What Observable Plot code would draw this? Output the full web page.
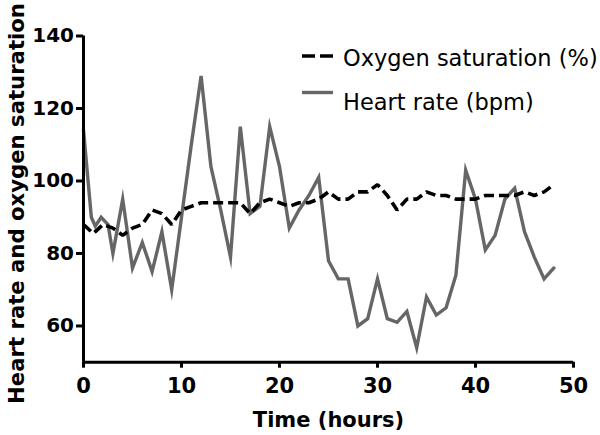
<!DOCTYPE html>
<html><head><meta charset="utf-8">
<script src="https://cdn.jsdelivr.net/npm/d3@7"></script>
<script src="https://cdn.jsdelivr.net/npm/@observablehq/plot@0.6"></script>
<style>html,body{margin:0;padding:0;background:#fff}</style>
</head><body><div id="chart"></div>
<script>
// Heart rate (bpm)
const hrTime  = [0, 0.8, 1.2, 1.8, 2.5, 3, 4, 5, 6, 7, 8, 9, 10, 11, 12, 13, 14, 15, 16, 17, 18, 19, 20, 21, 22, 23, 24, 25, 26, 27, 28, 29, 30, 31, 32, 33, 34, 35, 36, 37, 38, 39, 40, 41, 42, 43, 44, 45, 46, 47, 48];
const hrValue = [114, 90, 87.5, 90, 88, 80, 95, 76, 83, 75, 86, 70, 90, 110, 129, 104, 92, 79, 115, 91, 93, 115, 104, 87, 92, 96, 101, 78, 73, 73, 60, 62, 73, 62, 61, 64, 54, 68, 63, 65, 74, 103, 95, 81, 85, 95, 98, 86, 79, 73, 76];
// Oxygen saturation (%)
const o2Time  = [0, 1, 2, 3, 4, 5, 6, 7, 8, 9, 10, 11, 12, 13, 14, 15, 16, 17, 18, 19, 20, 21, 22, 23, 24, 25, 26, 27, 28, 29, 30, 31, 32, 33, 34, 35, 36, 37, 38, 39, 40, 41, 42, 43, 44, 45, 46, 47, 48];
const o2Value = [88, 85.5, 88, 87, 85, 87, 88, 92, 91, 88, 92, 93, 94, 94, 94, 94, 94, 91, 94, 95, 94, 93, 94, 94, 95, 97, 95, 95, 97, 97, 99, 96, 92, 95, 95, 97, 96, 96, 95, 95, 95, 96, 96, 96, 96, 97, 96, 97, 99];

const xTicks = [0, 10, 20, 30, 40, 50];
const yTicks = [60, 80, 100, 120, 140];
const seriesNames = ["Oxygen saturation (%)", "Heart rate (bpm)"];
const xTitle = "Time (hours)";
const yTitle = "Heart rate and oxygen saturation";

const hr = hrTime.map((t, i) => ({t, v: hrValue[i]}));
const o2 = o2Time.map((t, i) => ({t, v: o2Value[i]}));
const font = "'DejaVu Sans', Verdana, sans-serif";

const chart = Plot.plot({
  width: 600, height: 435,
  marginLeft: 83, marginRight: 27, marginTop: 35.5, marginBottom: 73.3,
  style: {fontFamily: font, background: "#fff", color: "#000", overflow: "visible"},
  x: {domain: [0, 50]},
  y: {domain: [50, 140]},
  marks: [
    Plot.line(hr, {x: "t", y: "v", stroke: "#666666", strokeWidth: 3.4, strokeLinejoin: "miter", strokeMiterlimit: 8}),
    Plot.line(o2, {x: "t", y: "v", stroke: "#000", strokeWidth: 3.6, strokeDasharray: "10,5", strokeLinecap: "butt", strokeLinejoin: "miter"}),
    Plot.ruleX([0], {stroke: "#000", strokeWidth: 3}),
    Plot.ruleY([50], {stroke: "#000", strokeWidth: 3}),
    Plot.axisX({ticks: xTicks, tickSize: 6, tickPadding: 10, fontSize: 21, fontWeight: "bold", strokeWidth: 3, label: null, tickFormat: d => String(d)}),
    Plot.axisY({ticks: yTicks, tickSize: 7, tickPadding: 2.5, fontSize: 20, fontWeight: "bold", strokeWidth: 3, label: null, tickFormat: d => String(d)}),
    Plot.text([xTitle], {text: d => d, frameAnchor: "bottom", lineAnchor: "bottom", dy: 65, fontSize: 21, fontWeight: "bold"}),
    Plot.text([yTitle], {text: d => d, frameAnchor: "left", textAnchor: "middle", lineAnchor: "bottom", rotate: -90, dx: -59.5, dy: 4.4, fontSize: 21.2, fontWeight: "bold"})
  ]
});

// Legend
const svg = d3.select(chart);
const legend = svg.append("g").attr("text-anchor", "start");
const legendStyles = [
  {dash: "13,5", color: "#000", width: 3.6, y: 56, ty: 65.5},
  {dash: null, color: "#666666", width: 3.4, y: 92.5, ty: 110}
];
seriesNames.forEach((name, i) => {
  const s = legendStyles[i];
  legend.append("line").attr("x1", 302).attr("x2", 333).attr("y1", s.y).attr("y2", s.y)
    .attr("stroke", s.color).attr("stroke-width", s.width).attr("stroke-dasharray", s.dash);
  legend.append("text").attr("x", 343).attr("y", s.ty).attr("font-size", 22.5)
    .attr("text-anchor", "start").attr("font-family", font).attr("fill", "#000").text(name);
});

document.getElementById("chart").appendChild(chart);
</script>
</body></html>
